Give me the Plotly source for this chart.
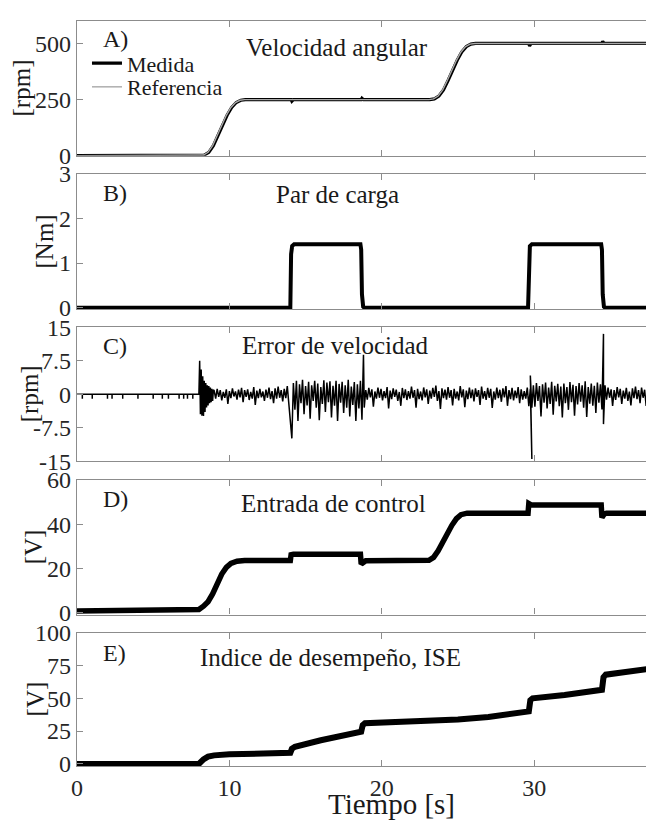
import plotly.graph_objects as go

FONT = "Liberation Serif"

# ---------------- A) Velocidad angular ----------------
vel_ref_t = [0, 8.0, 8.3, 8.6, 8.9, 9.2, 9.5, 9.8, 10.1, 10.4, 10.7, 11.0, 23.1, 23.4, 23.7, 24.0,
             24.3, 24.6, 24.9, 25.2, 25.5, 25.8, 26.1, 37.8]
vel_ref = [0, 0, 3, 15, 45, 90, 138, 180, 215, 237, 247, 250, 250, 253, 266, 293,
           335, 383, 425, 462, 486, 497, 500, 500]
vel_med_t = [0, 8.05, 8.35, 8.65, 8.95, 9.25, 9.55, 9.85, 10.15, 10.45, 10.75, 11.05, 14.05, 14.1,
             14.2, 18.65, 18.7, 18.8, 23.15, 23.45, 23.75, 24.05, 24.35, 24.65, 24.95, 25.25,
             25.55, 25.85, 26.15, 29.65, 29.7, 29.8, 34.45, 34.5, 34.6, 37.8]
vel_med = [0, 0, 3, 15, 45, 90, 138, 180, 215, 237, 247, 250, 250, 243,
           250, 250, 256, 250, 250, 253, 266, 293, 335, 383, 425, 462,
           486, 497, 500, 500, 489, 500, 500, 509, 500, 500]

# ---------------- B) Par de carga ----------------
par_t = [0, 14.0, 14.05, 14.12, 14.25, 18.6, 18.65, 18.7, 18.78, 18.85, 29.6, 29.65, 29.72, 29.85,
         34.4, 34.45, 34.5, 34.58, 34.65, 37.8]
par = [0, 0, 1.2, 1.38, 1.42, 1.42, 1.3, 0.3, 0.02, 0, 0, 1.2, 1.38, 1.42,
       1.42, 1.3, 0.3, 0.02, 0, 0]

# ---------------- C) Error de velocidad ----------------
err_pre_t = [0, 0.35, 0.35, 0.35, 1.0, 1.0, 1.0, 2.0, 2.0, 2.0, 2.3, 2.3, 2.3, 3.0, 3.0, 3.0,
             4.0, 4.0, 4.0, 5.0, 5.0, 5.0, 5.6, 5.6, 5.6, 6.0, 6.0, 6.0, 6.7, 6.7, 6.7,
             7.0, 7.0, 7.0, 7.25, 7.25, 7.25, 7.6, 7.6, 7.6]
err_pre = [0, 0, -1, 0, 0, -1, 0, 0, -1, 0, 0, -1, 0, 0, -1, 0,
           0, -1, 0, 0, -1, 0, 0, -1, 0, 0, -1, 0, 0, -1, 0,
           0, -1, 0, 0, -1, 0, 0, -1, 0]
# sampled segments: (start time, sample step, values)
err_trans = [0, 7.5, -4.5, 5.5, -4.8, 4.0, -4.9, 3.0, -4.0, 2.5, -3.0, 2.0, -2.5, 1.8, -2.0, 1.5,
             -1.8, 1.2, -1.5, 1.0]
err_free1 = [0.8, -1.0, 1.2, -0.6, 0.9, -1.4, 0.5, -0.8, 1.1, -2.2,
             0.7, -0.9, 1.3, -0.5, 0.6, -1.2, 1.0, -0.7, 1.4, -1.8,
             0.9, -0.6, 1.1, -1.3, 0.5, -1.0, 1.6, -2.4, 0.8, -0.9,
             1.2, -0.7, 0.6, -1.5, 1.0, -0.8, 1.5, -1.1, 0.7, -2.0,
             1.3, -1.0, 1.7, -0.8, 0.9, -1.6, 1.2, -0.9, 1.8, -2.2]
err_load1 = [-9.9, 2.5, -3.5, 3.0, -6.0, 2.2, -2.0, 3.2, -4.5, 1.8, -2.5, 2.8, -5.5, 2.0, -1.5,
             3.0, -3.0, 2.4, -5.8, 1.6, -2.2, 3.1, -4.0, 2.6, -1.8, 2.9, -5.2, 1.9, -2.6, 3.0,
             -6.0, 2.3, -1.9, 2.8, -4.2, 2.0, -3.0, 3.2, -5.0, 1.7, -2.4, 2.7, -6.0, 2.2, -3.2,
             3.0, -5.7, 8.8]
err_free2 = [-3.0, 0.9, -1.2, 1.4, -0.7, 1.1, -2.8, 0.6, -1.0, 1.5, -0.8,
             1.2, -1.4, 0.7, -0.9, 1.6, -3.2, 0.8, -1.1, 1.3, -0.6,
             1.0, -1.5, 0.5, -2.6, 1.4, -0.9, 1.1, -1.3, 0.7, -1.0,
             1.7, -0.8, 0.9, -3.0, 1.2, -1.1, 0.6, -1.4, 1.5, -0.7,
             1.1, -2.2, 0.8, -1.0, 1.4, -0.6, 1.9, -1.5, 0.7, -3.3,
             1.3, -0.9, 1.0, -1.2, 1.6, -0.8, 0.9, -2.5, 1.2, -1.0,
             0.6, -1.4, 1.8, -0.7, 1.1, -2.9, 0.8, -1.1, 1.5, -0.9,
             1.0, -1.6, 1.3, -0.6, 0.9, -2.4, 1.7, -1.0, 0.7, -1.3,
             1.4, -0.8, 1.2, -3.1, 0.6, -1.2, 1.5, -0.9, 1.0, -1.7,
             1.3, -0.7, 1.8, -2.6, 0.9, -1.1, 1.4, -1.4, 0.8, -0.9,
             1.6, -2.0, 1.1, -1.2, 0.7, -1.0, 1.5, -2.7, 1.2, -14.5]
err_load2 = [4.2, -3.0, 2.0, -2.8, 2.5, -1.5, 1.8, -5.0, 2.2, -1.9, 2.6, -3.2,
             1.5, -2.2, 2.8, -4.6, 1.9, -1.6, 2.3, -2.7, 1.7, -5.2,
             2.4, -2.0, 1.6, -3.5, 2.7, -1.8, 2.1, -4.8, 1.8, -2.3,
             2.5, -1.7, 2.0, -3.0, 2.9, -5.1, 1.6, -2.1, 2.4, -2.6,
             1.9, -4.2, 2.6, -1.9, 2.2, -3.4, 13.5]
err_free3 = [-6.7, 2.0, -1.2, 1.5, -0.8, 1.1, -2.6, 0.9, -1.3, 1.6, -0.7, 1.2,
             -2.2, 0.8, -1.0, 1.4, -1.5, 0.6, -2.5, 1.3, -0.9, 1.7,
             -1.1, 0.9, -2.0, 1.5, -0.8, 1.0, -2.6, 1.4, -1.2, 0.7,
             -1.6, 1.1]
err_segments = [(8.0, 0.05, err_trans), (9.0, 0.1, err_free1), (14.1, 0.1, err_load1),
                (18.85, 0.1, err_free2), (29.75, 0.1, err_load2), (34.55, 0.1, err_free3)]

# ---------------- D) Entrada de control ----------------
u_t = [0, 7.8, 8.0, 8.3, 8.6, 8.9, 9.2, 9.5, 9.8, 10.1, 10.5, 11.0, 14.0, 14.05, 14.2, 18.6,
       18.65, 18.8, 18.95, 23.1, 23.4, 23.7, 24.0, 24.3, 24.6, 24.9, 25.2, 25.6, 29.6, 29.65,
       29.8, 34.4, 34.45, 34.6, 34.75, 37.8]
u = [0.8, 1.0, 1.5, 3.0, 5.0, 8.5, 13.0, 17.5, 20.5, 22.3, 23.3, 23.6, 23.6, 26.2, 26.4, 26.4,
     22.0, 23.0, 23.5, 23.7, 25.0, 28.0, 32.0, 35.5, 39.5, 42.5, 44.3, 45.0, 45.0, 49.3,
     48.7, 48.7, 43.0, 44.6, 45.0, 45.0]

# ---------------- E) Indice de desempeno, ISE ----------------
ise_t = [0, 8.0, 8.3, 8.6, 9.0, 10.0, 14.0, 14.1, 14.3, 16.0, 18.65, 18.75, 18.9, 20.0, 22.0,
         25.0, 27.0, 28.0, 29.65, 29.75, 29.9, 32.0, 34.45, 34.55, 34.7, 36.0, 37.8]
ise = [0, 0, 3.5, 5.5, 6.5, 7.3, 8.5, 11.5, 13.0, 18.0, 24.5, 29.5, 31.0, 31.5, 32.3,
       33.8, 35.8, 37.5, 40.0, 48.5, 50.0, 52.5, 56.5, 66.0, 68.0, 70.0, 72.8]

# tick definitions
x_ticks = [0, 10, 20, 30]
y_ticks = [[0, 250, 500], [0, 1, 2, 3], [-15, -7.5, 0, 7.5, 15], [0, 20, 40, 60], [0, 25, 50, 75, 100]]
y_ticktext = [["0", "250", "500"], ["0", "1", "2", "3"], ["-15", "-7.5", "0", "7.5", "15"],
              ["0", "20", "40", "60"], ["0", "25", "50", "75", "100"]]
y_ranges = [[0, 600], [-0.03, 3], [-15, 15], [-0.8, 60], [-1.6, 100]]
y_titles = ["[rpm]", "[Nm]", "[rpm]", "[V]", "[V]"]
y_title_px = [21, 44, 29, 33, 35]
panel_labels = ["A)", "B)", "C)", "D)", "E)"]
panel_titles = ["Velocidad angular", "Par de carga", "Error de velocidad", "Entrada de control",
                "Indice de desempeño, ISE"]

# build error series
err_t = list(err_pre_t)
err = list(err_pre)
for start, step, vals in err_segments:
    for i, v in enumerate(vals):
        err_t.append(round(start + i * step, 4))
        err.append(v)

# ---------------- layout geometry (page pixels; page body has an 8px margin) ----------------
OFF = 8
W, H = 654 - OFF, 823 - OFF
ML, MR, MT = 77 - OFF, 0, 10 - OFF
PLOT_BOTTOM = 766 - OFF
MB = H - PLOT_BOTTOM
plot_h = H - MT - MB
panels_px = [(10, 146.7), (165, 302.3), (320.7, 456.7), (475.7, 612.3), (630.7, 766)]
label_y_px = [28, 185, 339.5, 495, 651]
title_x_px = [337.5, 338, 335.5, 334, 331]
title_y_px = [37, 186, 339, 500, 656]


def py(p):
    return (PLOT_BOTTOM - (p - OFF)) / plot_h


def px(p):
    return ((p - OFF) - ML) / (W - ML - MR)


fig = go.Figure()
fig.add_trace(go.Scatter(x=vel_med_t, y=vel_med, mode="lines", name="Medida", legend="legend",
                         line=dict(color="black", width=3.2), xaxis="x", yaxis="y"))
fig.add_trace(go.Scatter(x=vel_ref_t, y=vel_ref, mode="lines", name="Referencia", legend="legend2",
                         line=dict(color="#a8a8a8", width=1.4), xaxis="x", yaxis="y"))
fig.add_trace(go.Scatter(x=par_t, y=par, mode="lines", showlegend=False,
                         line=dict(color="black", width=4), xaxis="x2", yaxis="y2"))
fig.add_trace(go.Scatter(x=err_t, y=err, mode="lines", showlegend=False,
                         line=dict(color="black", width=1.5), xaxis="x3", yaxis="y3"))
fig.add_trace(go.Scatter(x=u_t, y=u, mode="lines", showlegend=False,
                         line=dict(color="black", width=5.5), xaxis="x4", yaxis="y4"))
fig.add_trace(go.Scatter(x=ise_t, y=ise, mode="lines", showlegend=False,
                         line=dict(color="black", width=6), xaxis="x5", yaxis="y5"))

axis_line = "#8c8c8c"
tick_font = dict(family=FONT, size=24, color="#262626")
legend_common = dict(xanchor="left", yanchor="middle",
                     font=dict(family=FONT, size=22, color="#1a1a1a"),
                     bgcolor="rgba(0,0,0,0)", itemwidth=30, tracegroupgap=0)
layout = dict(
    width=W, height=H, margin=dict(l=ML, r=MR, t=MT, b=MB),
    paper_bgcolor="white", plot_bgcolor="white",
    font=dict(family=FONT, color="#1a1a1a"),
    legend=dict(x=px(87), y=py(53), **legend_common),
    legend2=dict(x=px(87), y=py(77), **legend_common),
    annotations=[],
)
for i in range(5):
    n = "" if i == 0 else str(i + 1)
    top, bot = panels_px[i]
    layout["xaxis" + n] = dict(
        domain=[0, 1], anchor="y" + n, range=[0, 37.8], tickvals=x_ticks,
        showticklabels=(i == 4), ticks="inside", ticklen=6, tickcolor=axis_line,
        showline=True, linecolor=axis_line, linewidth=1.3, mirror="ticks",
        showgrid=False, zeroline=False, tickfont=tick_font,
        **({} if i == 0 else {"matches": "x"}))
    layout["yaxis" + n] = dict(
        domain=[py(bot), py(top)], anchor="x" + n, range=y_ranges[i],
        tickvals=y_ticks[i], ticktext=y_ticktext[i], ticks="inside", ticklen=6,
        tickcolor=axis_line, showline=True, linecolor=axis_line, linewidth=1.3,
        mirror="ticks", showgrid=False, zeroline=False, tickfont=tick_font)
    layout["annotations"].append(dict(
        text=panel_labels[i], xref="paper", yref="paper",
        x=px(101), y=py(label_y_px[i]), xanchor="left", yanchor="middle",
        showarrow=False, font=dict(family=FONT, size=24, color="#1a1a1a")))
    layout["annotations"].append(dict(
        text=panel_titles[i], xref="paper", yref="paper", x=px(title_x_px[i]), y=py(title_y_px[i]),
        xanchor="center", yanchor="middle", showarrow=False,
        font=dict(family=FONT, size=25, color="#1a1a1a")))
    layout["annotations"].append(dict(
        text=y_titles[i], xref="paper", yref="paper", x=px(y_title_px[i]),
        y=py((top + bot) / 2), xanchor="center", yanchor="middle", textangle=-90,
        showarrow=False, font=dict(family=FONT, size=25, color="#1a1a1a")))

layout["annotations"].append(dict(
    text="Tiempo [s]", xref="paper", yref="paper", x=px(392), y=py(805),
    xanchor="center", yanchor="middle", showarrow=False,
    font=dict(family=FONT, size=29, color="#1a1a1a")))

fig.update_layout(**layout)
fig.write_html("out.html")
